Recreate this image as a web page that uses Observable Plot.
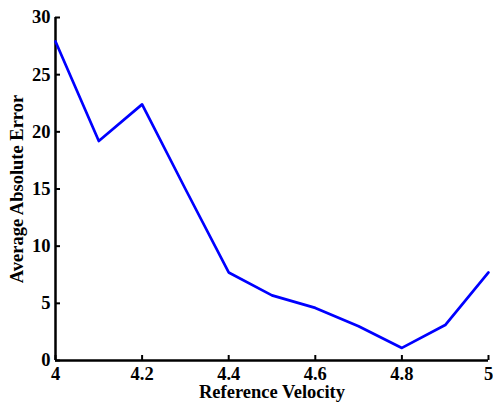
<!DOCTYPE html>
<html>
<head>
<meta charset="utf-8">
<script src="https://cdn.jsdelivr.net/npm/d3@7"></script>
<script src="https://cdn.jsdelivr.net/npm/@observablehq/plot@0.6"></script>
<style>
html, body { margin: 0; padding: 0; background: #fff; }
</style>
</head>
<body>
<div id="chart"></div>
<script>
const velocity = [4.0, 4.1, 4.2, 4.3, 4.4, 4.5, 4.6, 4.7, 4.8, 4.9, 5.0];
const avgAbsError = [27.9, 19.2, 22.4, 15.0, 7.7, 5.7, 4.6, 3.0, 1.1, 3.1, 7.7];
const xTicks = [4, 4.2, 4.4, 4.6, 4.8, 5];
const yTicks = [0, 5, 10, 15, 20, 25, 30];
const xLabel = "Reference Velocity";
const yLabel = "Average Absolute Error";

const data = velocity.map((v, i) => ({v, e: avgAbsError[i]}));
const FS = 18.5;

const chart = Plot.plot({
  width: 493,
  height: 403,
  marginLeft: 55,
  marginRight: 5,
  marginTop: 17,
  marginBottom: 43,
  style: {fontFamily: "'Liberation Serif', 'Times New Roman', serif", fontSize: FS + "px", fontWeight: "bold", background: "#fff", color: "#000"},
  x: {domain: [4, 5]},
  y: {domain: [0, 30]},
  marks: [
    Plot.axisX(xTicks, {anchor: "bottom", tickSize: 5, dy: -5, strokeWidth: 2, tickFormat: () => "", label: null}),
    Plot.axisY(yTicks, {anchor: "left", tickSize: 5, dx: 5, strokeWidth: 2, tickFormat: () => "", label: null}),
    Plot.ruleX([4], {stroke: "#000", strokeWidth: 2.5}),
    Plot.ruleY([0], {stroke: "#000", strokeWidth: 2.5}),
    Plot.line(data, {x: "v", y: "e", stroke: "#0000ff", strokeWidth: 2.7}),
    Plot.text([xLabel], {frameAnchor: "bottom", lineAnchor: "middle", dy: 32, fontSize: FS, fontWeight: "bold", stroke: "none", fill: "#000"}),
    Plot.text([yLabel], {frameAnchor: "left", dx: -38, rotate: -90, textAnchor: "middle", fontSize: FS, fontWeight: "bold", stroke: "none", fill: "#000"}),
    Plot.axisX(xTicks, {anchor: "bottom", tickSize: 0, tickPadding: 6, fontSize: FS, fontWeight: "bold", tickFormat: d => String(d), label: null}),
    Plot.axisY(yTicks, {anchor: "left", tickSize: 0, tickPadding: 5, fontSize: FS, fontWeight: "bold", tickFormat: d => String(d), label: null})
  ]
});
document.getElementById("chart").appendChild(chart);
</script>
</body>
</html>
